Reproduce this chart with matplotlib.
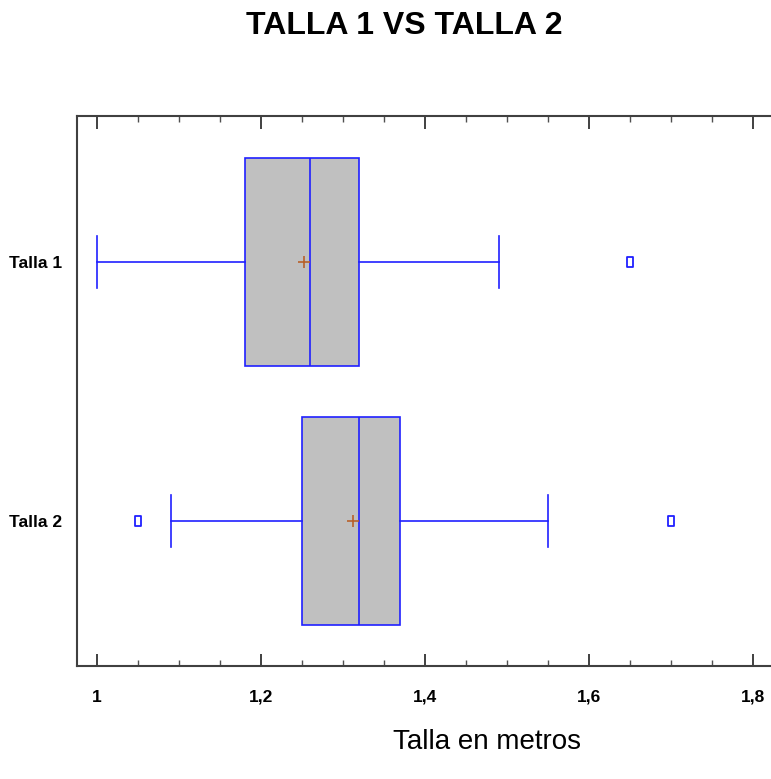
import matplotlib
matplotlib.use("Agg")
import matplotlib.pyplot as plt
from matplotlib.ticker import MultipleLocator, FixedLocator
from matplotlib.path import Path

# ---- data ----
categories = ["Talla 1", "Talla 2"]
q1 = [1.18, 1.25]
medians = [1.26, 1.32]
q3 = [1.32, 1.37]
whisker_low = [1.00, 1.09]
whisker_high = [1.49, 1.55]
means = [1.253, 1.312]
outliers = [[1.65], [1.05, 1.70]]
xticks = [1.0, 1.2, 1.4, 1.6, 1.8]
xtick_labels = ["1", "1,2", "1,4", "1,6", "1,8"]

title = "TALLA 1 VS TALLA 2"
xlabel = "Talla en metros"

narrow = ["Liberation Sans Narrow", "Liberation Sans", "DejaVu Sans"]
arial = ["Liberation Sans", "DejaVu Sans"]

fig = plt.figure(figsize=(7.71, 7.79), dpi=100)
ax = fig.add_axes([77 / 771, 1 - 666 / 779, 1 - 77 / 771, (666 - 116) / 779])

stats = []
for i in range(len(categories)):
    stats.append(dict(label=categories[i], q1=q1[i], med=medians[i], q3=q3[i],
                      whislo=whisker_low[i], whishi=whisker_high[i],
                      mean=means[i], fliers=outliers[i]))

rect = Path([(-0.3, -0.5), (0.3, -0.5), (0.3, 0.5), (-0.3, 0.5), (-0.3, -0.5)],
            [Path.MOVETO, Path.LINETO, Path.LINETO, Path.LINETO, Path.CLOSEPOLY])

blue = "#2020ff"
ax.bxp(stats, positions=[1, 2], vert=False, widths=0.8, capwidths=0.2,
       patch_artist=True, showmeans=True,
       boxprops=dict(facecolor="#c0c0c0", edgecolor=blue, linewidth=1.2),
       medianprops=dict(color=blue, linewidth=1.2),
       whiskerprops=dict(color=blue, linewidth=1.2),
       capprops=dict(color=blue, linewidth=1.2),
       meanprops=dict(marker="+", markeredgecolor="#b8602a", markersize=9,
                      markeredgewidth=1.2),
       flierprops=dict(marker=rect, markerfacecolor="none", markeredgecolor=blue,
                       markersize=7, markeredgewidth=1.3))

ax.set_xlim(1 - 20 / 820, 1 + 674 / 820)
ax.set_ylim(2 + 145 / 259, 1 - 146 / 259)

ax.set_xticks(xticks)
ax.set_xticklabels(xtick_labels)
ax.xaxis.set_minor_locator(MultipleLocator(0.05))
ax.set_yticks([1, 2])
ax.set_yticklabels(categories)

ax.tick_params(axis="x", which="major", direction="in", length=9, width=1.2,
               color="#202020", top=True, bottom=True, pad=17)
ax.tick_params(axis="x", which="minor", direction="in", length=4.5, width=1.0,
               color="#505050", top=True, bottom=True)
ax.tick_params(axis="y", length=0, pad=11)
for lab in ax.get_xticklabels() + ax.get_yticklabels():
    lab.set_fontfamily(narrow)
    lab.set_fontweight("bold")
    lab.set_fontsize(12.5)

for s in ["left", "top", "bottom"]:
    ax.spines[s].set_color("#404040")
    ax.spines[s].set_linewidth(1.5)
ax.spines["right"].set_visible(False)

fig.text(404 / 771, 1 - 26 / 779, title, ha="center", va="center",
         fontsize=23, fontweight="bold", family=arial)
fig.text(487 / 771, 1 - 742 / 779, xlabel, ha="center", va="center",
         fontsize=20, family=arial)

fig.savefig("out.png", dpi=100)
